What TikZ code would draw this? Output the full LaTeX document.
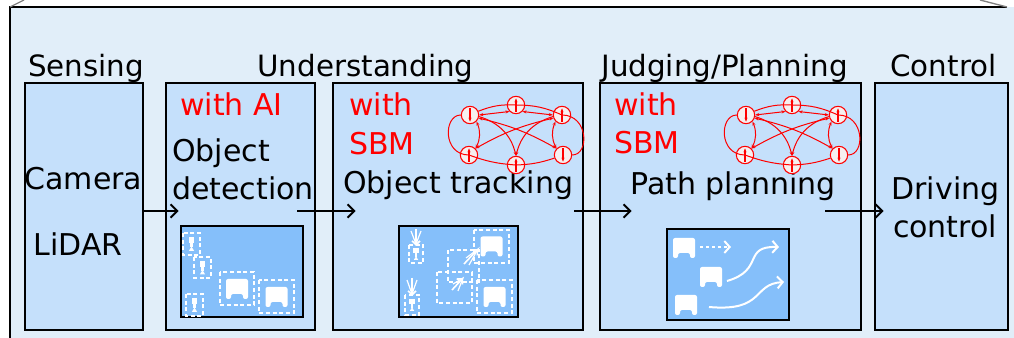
\documentclass[tikz,border=0pt]{standalone}
\usepackage{fontspec}
\setmainfont{DejaVu Sans}
\usetikzlibrary{arrows.meta}

\definecolor{panelblue}{RGB}{225,238,249}
\definecolor{boxblue}{RGB}{197,224,251}
\definecolor{shotblue}{RGB}{133,191,250}
\definecolor{spinfill}{RGB}{246,240,240}

\tikzset{
  stage/.style={draw, line width=2pt, fill=boxblue, minimum height=185.25pt, inner sep=0pt},
  head/.style={font=\fontsize{22}{26}\selectfont, anchor=base, inner sep=0pt},
  txt/.style={font=\fontsize{22.5}{27}\selectfont, anchor=base west, inner sep=0pt},
  red txt/.style={txt, text=red},
  flow/.style={line width=1.5pt, -{Straight Barb[length=5pt,width=10pt]}},
  shot/.style={draw, line width=1.5pt, fill=shotblue},
  tagbox/.style={white, line width=1.5pt, dash pattern=on 3pt off 2pt},
  motion/.style={white, line width=1.2pt, -{Straight Barb[length=3pt,width=6pt]}},
  route/.style={white, line width=1.5pt, -{Straight Barb[length=4pt,width=9pt]}},
  spin/.style={circle, draw=red, fill=spinfill, line width=0.8pt, minimum size=13pt, inner sep=0pt},
  sup/.style={spin, path picture={\draw[red, line width=0.8pt, -{Stealth[length=3pt]}]
      ([yshift=-5pt]path picture bounding box.center) -- ([yshift=5pt]path picture bounding box.center);}},
  sdown/.style={spin, path picture={\draw[red, line width=0.8pt, -{Stealth[length=3pt]}]
      ([yshift=5pt]path picture bounding box.center) -- ([yshift=-5pt]path picture bounding box.center);}},
  link/.style={red, line width=0.75pt},
  dlink/.style={link, {Stealth[length=3pt]}-{Stealth[length=3pt]}},
  alink/.style={link, -{Stealth[length=3pt]}},
  % small white icons
  car/.pic={\fill[white, rounded corners=1.5] (-11,10) -- (-11,-10) -- (11,-10) -- (11,10) -- (6,10)
      -- (6,5) -- (-6,5) -- (-6,10) -- cycle;},
  ped/.pic={\fill[white] (-3.5,-8) rectangle (3.5,-1);
      \fill[white] (-1.2,-1) rectangle (1.2,4);
      \fill[white] (-3,8) -- (0,3) -- (3,8) -- cycle;},
  % spin network
  sbm/.pic={
    \node[sdown] (-tl) at (-46,-20) {};
    \node[sup]   (-tm) at (0,-30) {};
    \node[sup]   (-tr) at (46,-20) {};
    \node[sup]   (-bl) at (-47,20) {};
    \node[sup]   (-bm) at (0,30) {};
    \node[sdown] (-br) at (47,20) {};
    \draw[link] (-tl) to[bend left=12] (-tm) to[bend left=12] (-tr)
      to[out=0,in=0,looseness=1.7] (-br) to[bend left=8] (-bm) to[bend left=8] (-bl)
      to[out=180,in=180,looseness=1.7] (-tl);
    \draw[dlink] (-tl.east) -- (-tm.south west);
    \draw[dlink] (-tm.south east) -- (-tr.west);
    \draw[dlink] (-tl.south east) to[bend left=25] (-bl.north east);
    \draw[dlink] (-tr.south west) to[bend right=25] (-br.north west);
    \draw[dlink] (-tl.-20) to[bend left=8] (-br.north west);
    \draw[dlink] (-tr.200) to[bend right=8] (-bl.north east);
    \draw[alink] (-tl.-10) to[bend left=30] (-bm.north);
    \draw[alink] (-tr.190) to[bend right=30] (-bm.north);
  },
}

\begin{document}
\begin{tikzpicture}[x=0.75pt,y=-0.75pt]
  \useasboundingbox (0,0) rectangle (1014,338);

  % frame
  \fill[panelblue] (10,7) rectangle (1014,338);
  \draw[line width=1.8pt] (10,338) -- (10,7) -- (1007,7);
  \draw[gray, line width=1pt] (10,7) -- (24,0) (1007,7) -- (980,0);

  % stages
  \node[stage, minimum width=88.5pt]  (sen) at (84,206.5) {};
  \node[stage, minimum width=111.75pt] (det) at (240.5,206.5) {};
  \node[stage, minimum width=187.5pt] (trk) at (458,206.5) {};
  \node[stage, minimum width=195.75pt] (pln) at (730.5,206.5) {};
  \node[stage, minimum width=99.75pt] (ctl) at (941.5,206.5) {};

  \node[head] (hsen) at (86,77) {Sensing};
  \node[head] (hund) at (365.5,77) {Understanding};
  \node[head] (hjud) at (724.5,77) {Judging/Planning};
  \node[head] (hctl) at (943.5,77) {Control};

  \node[txt, anchor=base] (cam) at (83.5,190) {Camera};
  \node[txt, anchor=base] (lidar) at (78,256) {LiDAR};

  \node[red txt] (detai) at (180,116) {with AI};
  \node[txt] (detobj) at (172,162) {Object};
  \node[txt] (detdet) at (172,200) {detection};

  \node[red txt] (trkwith) at (349,116) {with};
  \node[red txt] (trksbm) at (349,155) {SBM};
  \node[txt] (trklbl) at (343,194) {Object tracking};

  \node[red txt] (plnwith) at (614,116) {with};
  \node[red txt] (plnsbm) at (614,154) {SBM};
  \node[txt] (plnlbl) at (630,195) {Path planning};

  \node[txt, anchor=base] (ctldrv) at (945.5,200) {Driving};
  \node[txt, anchor=base] (ctlctl) at (945,238) {control};

  \pic (trknet) at (516,135) {sbm};
  \pic (plnnet) at (792,135) {sbm};

  % detection shot
  \draw[shot] (181,226) rectangle (303,317);
  \draw[tagbox] (183,233) rectangle (200,255) (194,257) rectangle (211,278) (186,294) rectangle (203,316);
  \pic[scale=0.85] at (191.5,244) {ped};
  \pic[scale=0.85] at (202.5,267.5) {ped};
  \pic[scale=0.85] at (194.5,305) {ped};
  \draw[tagbox] (220,272) rectangle (254,305) (259,280) rectangle (294,313);
  \pic at (237,289) {car};
  \pic at (276.5,297) {car};

  % tracking shot
  \draw[shot] (399,226) rectangle (518,317);
  \draw[tagbox] (409,245) rectangle (423,263) (405,295) rectangle (419,315);
  \pic[scale=0.75] at (416,254) {ped};
  \pic[scale=0.75] at (412,305) {ped};
  \draw[motion] (416,229) -- (416,246);
  \draw[white, line width=0.9pt] (411,231) -- (416,244) -- (421,231);
  \draw[motion] (412,278) -- (412,296);
  \draw[white, line width=0.9pt] (407,280) -- (412,294) -- (417,280);
  \draw[tagbox] (474,230) rectangle (509,263) (477,280) rectangle (512,313);
  \pic at (491.5,246.5) {car};
  \pic at (494.5,297) {car};
  \draw[tagbox] (448,250) rectangle (479,282) (437,272) rectangle (472,303);
  \draw[motion] (464,264) -- (478,249);
  \draw[white, line width=0.9pt] (466,258) -- (478,249) -- (469,265);
  \draw[motion] (452,290) -- (463,278);
  \draw[white, line width=0.9pt] (453,284) -- (463,278) -- (458,291);

  % planning shot
  \draw[shot] (667,229) rectangle (789,320);
  \pic at (684,248) {car};
  \pic at (711,277) {car};
  \pic at (686,305) {car};
  \draw[route, dash pattern=on 2.5pt off 2pt] (700,247) -- (731,247);
  \draw[route] (727,281) .. controls (765,270) and (742,246) .. (779,247);
  \draw[route] (709,307) .. controls (765,312) and (752,284) .. (784,282);

  % flow between stages
  \draw[flow] ([yshift=-3.4pt]sen.east) -- ([xshift=10.5pt,yshift=-3.4pt]det.west);
  \draw[flow] ([xshift=-14.25pt,yshift=-3.4pt]det.east) -- ([xshift=18pt,yshift=-3.4pt]trk.west);
  \draw[flow] ([xshift=-7.5pt,yshift=-3.4pt]trk.east) -- ([xshift=24.75pt,yshift=-3.4pt]pln.west);
  \draw[flow] ([xshift=-27.75pt,yshift=-3.4pt]pln.east) -- ([xshift=7.5pt,yshift=-3.4pt]ctl.west);
\end{tikzpicture}
\end{document}
